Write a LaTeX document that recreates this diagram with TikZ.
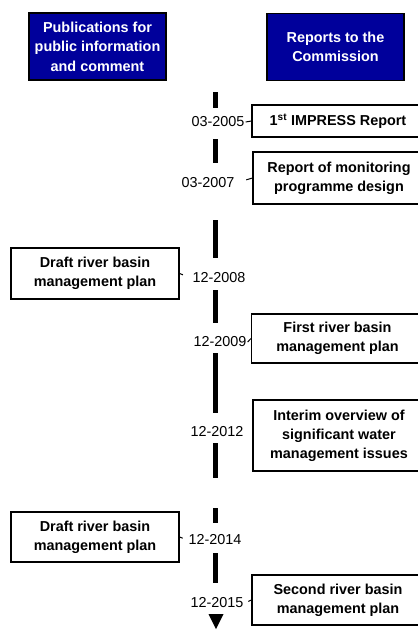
\documentclass[tikz,border=0pt]{standalone}
\usepackage{fontspec}
\setmainfont{Liberation Sans}
\definecolor{navy}{RGB}{0,0,155}

\begin{document}
\begin{tikzpicture}[x=1pt,y=-1pt]
        \tikzset{
        hdr/.style={rectangle, minimum width=137, minimum height=67, fill=navy,
        draw=black, line width=1.6, text=white, font=\bfseries\fontsize{14.4}{19.5}\selectfont, align=center, inner sep=0},
        rep/.style={rectangle, minimum width=172, draw=black, line width=1.1,
        font=\bfseries\fontsize{14.4}{19}\selectfont, align=center, inner sep=0},
        pub/.style={rep, minimum width=168},
        dt/.style={font=\fontsize{14.4}{17}\selectfont, inner sep=1},
        tk/.style={-, line width=1},
        tl/.style={line width=5.5},
        }
        \clip (0,0) rectangle (418,630);

        \node[hdr] (h1) at (97.5,46.5) {Publications for\\public information\\and comment};
        \node[hdr] (h2) at (335.5,47) {Reports to the\\Commission};

        % time line
        \foreach \a/\b in {92/108, 139/163, 220/258, 290/323, 353/413, 443/478, 508/523, 553/583}
          \draw[tl] (215.5,\a) -- (215.5,\b);
        \fill (208.5,614) -- (223.5,614) -- (216,629) -- cycle;

        \node[rep, minimum height=32] (r1) at (338,121) {1\textsuperscript{st} IMPRESS Report};
        \node[rep, minimum height=52] (r2) at (339,178) {Report of monitoring\\programme design};
        \node[pub, minimum height=51] (l1) at (95,273.5) {Draft river basin\\management plan};
        \node[rep, minimum height=49] (r3) at (337.5,338.5) {First river basin\\management plan};
        \node[rep, minimum height=71] (r4) at (339,435.5) {Interim overview of\\significant water\\management issues};
        \node[pub, minimum height=50] (l2) at (95,537) {Draft river basin\\management plan};
        \node[rep, minimum height=50] (r5) at (338,600) {Second river basin\\management plan};

        \node[dt] (d1) at (218,122) {03-2005};
        \node[dt] (d2) at (208,183) {03-2007};
        \node[dt] (d3) at (219,278) {12-2008};
        \node[dt] (d4) at (220,342) {12-2009};
        \node[dt] (d5) at (217,432) {12-2012};
        \node[dt] (d6) at (215,540) {12-2014};
        \node[dt] (d7) at (217,603) {12-2015};

        \draw[tk] (d1.east) -- (r1.west);
        \draw[tk, shorten <=11] (d2.east) -- (r2.west);
        \draw[tk, shorten >=9] (l1.east) -- (d3.west);
        \draw[tk] (d4.east) -- (r3.west);
        \draw[tk, shorten <=10] (d5.east) -- (r4.west);
        \draw[tk, shorten >=5] (l2.east) -- (d6.west);
        \draw[tk, shorten <=4] (d7.east) -- (r5.west);
\end{tikzpicture}
\end{document}
